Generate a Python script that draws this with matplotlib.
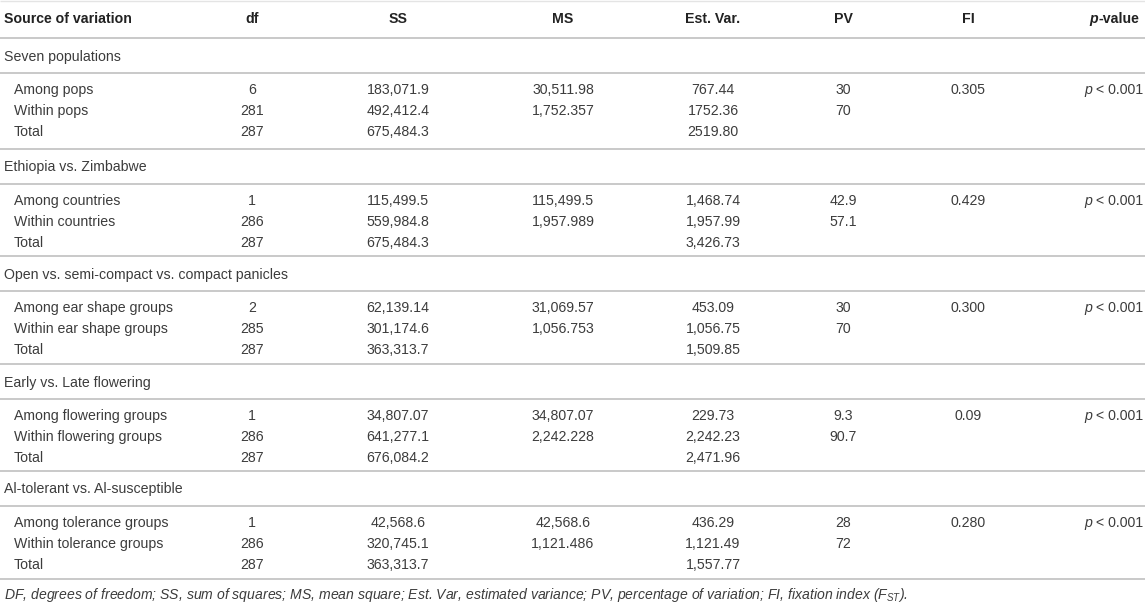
import matplotlib
matplotlib.use("Agg")
import matplotlib.pyplot as plt

plt.rcParams['font.family'] = ['Liberation Sans', 'DejaVu Sans']
plt.rcParams['mathtext.fontset'] = 'custom'
plt.rcParams['mathtext.rm'] = 'Liberation Sans'
plt.rcParams['mathtext.it'] = 'Liberation Sans:italic'

headers = ["Source of variation", "df", "SS", "MS", "Est. Var.", "PV", "FI", "-value"]
sections = ["Seven populations", "Ethiopia vs. Zimbabwe",
            "Open vs. semi-compact vs. compact panicles",
            "Early vs. Late flowering", "Al-tolerant vs. Al-susceptible"]
row_labels = [
    ["Among pops", "Within pops", "Total"],
    ["Among countries", "Within countries", "Total"],
    ["Among ear shape groups", "Within ear shape groups", "Total"],
    ["Among flowering groups", "Within flowering groups", "Total"],
    ["Among tolerance groups", "Within tolerance groups", "Total"],
]
df_vals = [["6", "281", "287"], ["1", "286", "287"], ["2", "285", "287"],
           ["1", "286", "287"], ["1", "286", "287"]]
ss_vals = [["183,071.9", "492,412.4", "675,484.3"],
           ["115,499.5", "559,984.8", "675,484.3"],
           ["62,139.14", "301,174.6", "363,313.7"],
           ["34,807.07", "641,277.1", "676,084.2"],
           ["42,568.6", "320,745.1", "363,313.7"]]
ms_vals = [["30,511.98", "1,752.357", ""],
           ["115,499.5", "1,957.989", ""],
           ["31,069.57", "1,056.753", ""],
           ["34,807.07", "2,242.228", ""],
           ["42,568.6", "1,121.486", ""]]
ev_vals = [["767.44", "1752.36", "2519.80"],
           ["1,468.74", "1,957.99", "3,426.73"],
           ["453.09", "1,056.75", "1,509.85"],
           ["229.73", "2,242.23", "2,471.96"],
           ["436.29", "1,121.49", "1,557.77"]]
pv_vals = [["30", "70", ""], ["42.9", "57.1", ""], ["30", "70", ""],
           ["9.3", "90.7", ""], ["28", "72", ""]]
fi_vals = ["0.305", "0.429", "0.300", "0.09", "0.280"]
p_vals = [" < 0.001"] * 5
footnote = ("DF, degrees of freedom; SS, sum of squares; MS, mean square; Est. Var, "
            "estimated variance; PV, percentage of variation; FI, fixation index ($F_{ST}$).")

W, H = 1145, 607
fig = plt.figure(figsize=(W / 100, H / 100), dpi=100)
ax = fig.add_axes([0, 0, 1, 1])
ax.set_xlim(0, W)
ax.set_ylim(H, 0)
ax.axis('off')
renderer = fig.canvas.get_renderer()

TXT = '#3c3c3c'
HDR = '#222222'
LINE = '#c9c9c9'
FS = 10.2
col_x = [4, 252, 398, 563, 713, 843, 968, 1139]
col_ha = ['left', 'center', 'center', 'center', 'center', 'center', 'center', 'right']

def hline(y, color=LINE, lw=1.4):
    ax.plot([0, W], [y, y], color=color, lw=lw, solid_capstyle='butt')

def italic_prefix(t, y, **kw):
    # place an italic "p" directly left of a right-aligned text object
    bb = t.get_window_extent(renderer=renderer)
    x0 = ax.transData.inverted().transform((bb.x0, bb.y0))[0]
    ax.text(x0, y, "p", ha='right', va='center', style='italic', **kw)

hline(1, color='#e4e4e4', lw=1.0)
for x, ha, h in zip(col_x, col_ha, headers):
    t = ax.text(x, 19, h, ha=ha, va='center', fontsize=FS, fontweight='bold', color=HDR)
    if h == "-value":
        italic_prefix(t, 19, fontsize=FS, fontweight='bold', color=HDR)
hline(38)

tops = [38, 149, 256, 364, 471, 579]
for k in range(5):
    top = tops[k]
    ax.text(4, top + 18.5, sections[k], ha='left', va='center', fontsize=FS, color=TXT)
    hline(top + 35)
    for r in range(3):
        y = top + 52 + r * 21
        cells = [row_labels[k][r], df_vals[k][r], ss_vals[k][r], ms_vals[k][r],
                 ev_vals[k][r], pv_vals[k][r],
                 fi_vals[k] if r == 0 else "", p_vals[k] if r == 0 else ""]
        for c, (x, ha, t) in enumerate(zip(col_x, col_ha, cells)):
            if not t:
                continue
            xx = 14 if c == 0 else (1143 if c == 7 else x)
            tt = ax.text(xx, y, t, ha=ha, va='center', fontsize=FS, color=TXT)
            if c == 7:
                italic_prefix(tt, y, fontsize=FS, color=TXT)
    hline(tops[k + 1])

ax.text(4, 595, footnote, ha='left', va='center', fontsize=10.1,
        style='italic', color=TXT)

fig.savefig("out.png", dpi=100)
